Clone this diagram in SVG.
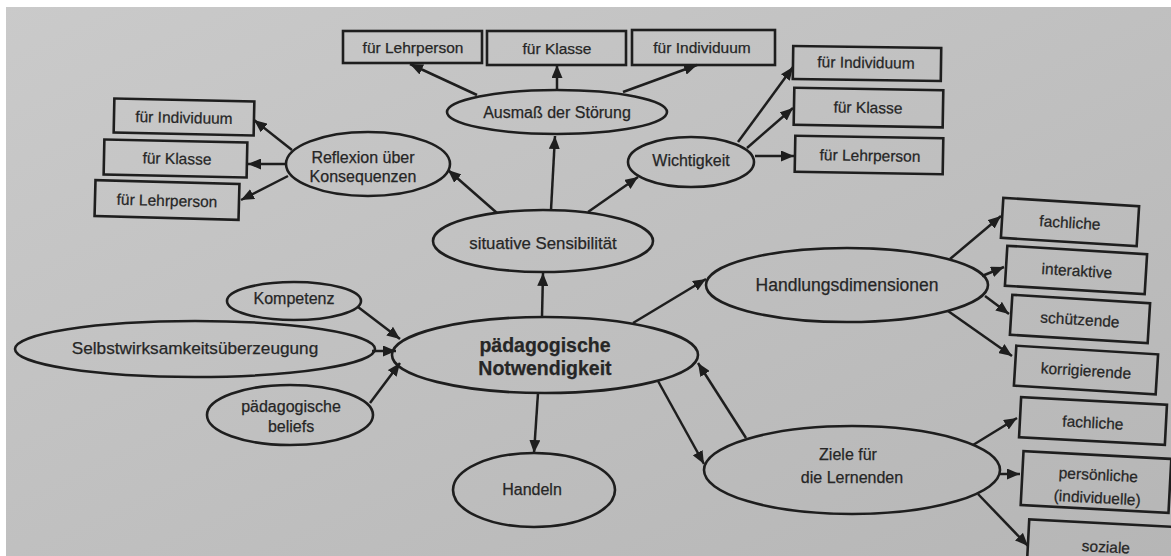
<svg xmlns="http://www.w3.org/2000/svg" width="1171" height="556" viewBox="0 0 1171 556">
<defs>
<linearGradient id="paper" x1="0" y1="0" x2="1" y2="1">
<stop offset="0" stop-color="#cacaca"/>
<stop offset="1" stop-color="#b6b6b6"/>
</linearGradient>
<marker id="ah" viewBox="0 0 13 11" refX="13" refY="5.5" markerWidth="13" markerHeight="11" markerUnits="userSpaceOnUse" orient="auto">
<path d="M0,0 L13,5.5 L0,11 z" fill="#1e1e1e"/>
</marker>
</defs>
<style>
.box{fill:none;stroke:#1e1e1e;stroke-width:2.6}
.ell{fill:none;stroke:#1e1e1e;stroke-width:2.6}
text{font-family:"Liberation Sans",Arial,sans-serif;fill:#262626;text-anchor:middle;stroke:#262626;stroke-width:0.25}
.t{font-size:15.5px}
.e{font-size:16px}
.b{font-size:19.5px;font-weight:bold}
#connectors line{stroke:#1e1e1e;stroke-width:2.5;marker-end:url(#ah)}
</style>
<rect x="0" y="0" width="1171" height="556" fill="url(#paper)"/>
<rect x="0" y="0" width="1171" height="7" fill="#ffffff"/>
<rect x="0" y="0" width="6" height="556" fill="#ffffff"/>

<g id="connectors">
<line x1="542" y1="317" x2="543" y2="273"/>
<line x1="551" y1="210" x2="555" y2="136"/>
<line x1="557" y1="90" x2="557" y2="65"/>
<line x1="477" y1="95" x2="410" y2="64"/>
<line x1="623" y1="92" x2="697" y2="65"/>
<line x1="497" y1="213" x2="448" y2="170"/>
<line x1="588" y1="212" x2="638" y2="177"/>
<line x1="292" y1="150" x2="254" y2="120"/>
<line x1="287" y1="164" x2="248" y2="164"/>
<line x1="288" y1="176" x2="241" y2="200"/>
<line x1="738" y1="142" x2="793" y2="67"/>
<line x1="747" y1="148" x2="793" y2="108"/>
<line x1="755" y1="156" x2="794" y2="156"/>
<line x1="358" y1="307" x2="400" y2="339"/>
<line x1="372" y1="351" x2="396" y2="351"/>
<line x1="370" y1="403" x2="400" y2="363"/>
<line x1="538" y1="393" x2="534" y2="453"/>
<line x1="633" y1="323" x2="706" y2="279"/>
<line x1="658" y1="381" x2="704" y2="464"/>
<line x1="746" y1="438" x2="698" y2="363"/>
<line x1="950" y1="259" x2="1001" y2="216"/>
<line x1="982" y1="276" x2="1004" y2="267"/>
<line x1="985" y1="296" x2="1009" y2="314"/>
<line x1="948" y1="311" x2="1012" y2="356"/>
<line x1="973" y1="445" x2="1017" y2="418"/>
<line x1="1000" y1="474" x2="1020" y2="474"/>
<line x1="978" y1="494" x2="1028" y2="546"/>
</g>

<g id="notwendigkeit">
<ellipse class="ell" cx="545" cy="355" rx="153" ry="38"/>
<text class="b" x="545" y="352">pädagogische</text>
<text class="b" x="545" y="375">Notwendigkeit</text>
</g>
<g id="situative">
<ellipse class="ell" cx="543" cy="241" rx="110" ry="31"/>
<text class="e" x="543" y="249" style="font-size:16.8px">situative Sensibilität</text>
</g>
<g id="ausmass">
<ellipse class="ell" cx="557" cy="112" rx="110" ry="22"/>
<text class="e" x="557" y="118">Ausmaß der Störung</text>
</g>
<g id="reflexion">
<ellipse class="ell" cx="368" cy="164" rx="82" ry="32"/>
<text class="e" x="363" y="163">Reflexion über</text>
<text class="e" x="363" y="182">Konsequenzen</text>
</g>
<g id="wichtigkeit">
<ellipse class="ell" cx="691" cy="162" rx="63" ry="25"/>
<text class="e" x="691" y="166">Wichtigkeit</text>
</g>
<g id="kompetenz">
<ellipse class="ell" cx="294" cy="301" rx="67" ry="19"/>
<text class="e" x="294" y="304">Kompetenz</text>
</g>
<g id="selbstwirksamkeit">
<ellipse class="ell" cx="195" cy="349" rx="180" ry="28"/>
<text class="e" x="195" y="354" style="font-size:17.2px">Selbstwirksamkeitsüberzeugung</text>
</g>
<g id="beliefs">
<ellipse class="ell" cx="290" cy="415" rx="83" ry="30"/>
<text class="e" x="291" y="412">pädagogische</text>
<text class="e" x="291" y="432">beliefs</text>
</g>
<g id="handeln">
<ellipse class="ell" cx="534" cy="490" rx="81" ry="37"/>
<text class="e" x="532" y="495">Handeln</text>
</g>
<g id="handlungsdimensionen">
<ellipse class="ell" cx="847" cy="285" rx="141" ry="37"/>
<text class="e" x="847" y="291" style="font-size:17.5px">Handlungsdimensionen</text>
</g>
<g id="ziele">
<ellipse class="ell" cx="852" cy="470" rx="148" ry="44"/>
<text class="e" x="848" y="460">Ziele für</text>
<text class="e" x="852" y="483">die Lernenden</text>
</g>

<g id="a-lehrperson">
<rect class="box" x="343" y="31" width="139" height="32"/>
<text class="t" x="413" y="53">für Lehrperson</text>
</g>
<g id="a-klasse">
<rect class="box" x="487" y="31" width="139" height="34"/>
<text class="t" x="557" y="54">für Klasse</text>
</g>
<g id="a-individuum">
<rect class="box" x="632" y="30" width="143" height="35"/>
<text class="t" x="702" y="53">für Individuum</text>
</g>

<g id="r-individuum" transform="rotate(1.2 184 117)">
<rect class="box" x="114" y="100" width="140" height="34"/>
<text class="t" x="184" y="123">für Individuum</text>
</g>
<g id="r-klasse" transform="rotate(1.2 175 158)">
<rect class="box" x="104" y="141" width="143" height="35"/>
<text class="t" x="177" y="164">für Klasse</text>
</g>
<g id="r-lehrperson" transform="rotate(1.5 167 200)">
<rect class="box" x="95" y="182" width="144" height="36"/>
<text class="t" x="167" y="206">für Lehrperson</text>
</g>

<g id="w-individuum" transform="rotate(0.8 867 64)">
<rect class="box" x="793" y="47" width="148" height="33"/>
<text class="t" x="866" y="68">für Individuum</text>
</g>
<g id="w-klasse" transform="rotate(1 868 107)">
<rect class="box" x="794" y="89" width="149" height="37"/>
<text class="t" x="868" y="113">für Klasse</text>
</g>
<g id="w-lehrperson" transform="rotate(1 869 155)">
<rect class="box" x="795" y="137" width="148" height="36"/>
<text class="t" x="870" y="161">für Lehrperson</text>
</g>

<g id="h-fachliche" transform="rotate(3.5 1070 222)">
<rect class="box" x="1002" y="202" width="136" height="40"/>
<text class="t" x="1070" y="228">fachliche</text>
</g>
<g id="h-interaktive" transform="rotate(3.5 1076 270)">
<rect class="box" x="1006" y="250" width="140" height="40"/>
<text class="t" x="1077" y="276">interaktive</text>
</g>
<g id="h-schuetzende" transform="rotate(3.5 1080 319)">
<rect class="box" x="1011" y="299" width="138" height="40"/>
<text class="t" x="1080" y="325">schützende</text>
</g>
<g id="h-korrigierende" transform="rotate(3.5 1086 370)">
<rect class="box" x="1015" y="350" width="142" height="40"/>
<text class="t" x="1086" y="376">korrigierende</text>
</g>

<g id="z-fachliche" transform="rotate(3 1093 421)">
<rect class="box" x="1020" y="401" width="146" height="40"/>
<text class="t" x="1093" y="428">fachliche</text>
</g>
<g id="z-persoenliche" transform="rotate(3 1096 482)">
<rect class="box" x="1022" y="455" width="148" height="54"/>
<text class="t" x="1098" y="480">persönliche</text>
<text class="t" x="1098" y="503">(individuelle)</text>
</g>
<g id="z-soziale" transform="rotate(3 1100 545)">
<rect class="box" x="1028" y="523" width="146" height="50"/>
<text class="t" x="1106" y="552">soziale</text>
</g>
</svg>
